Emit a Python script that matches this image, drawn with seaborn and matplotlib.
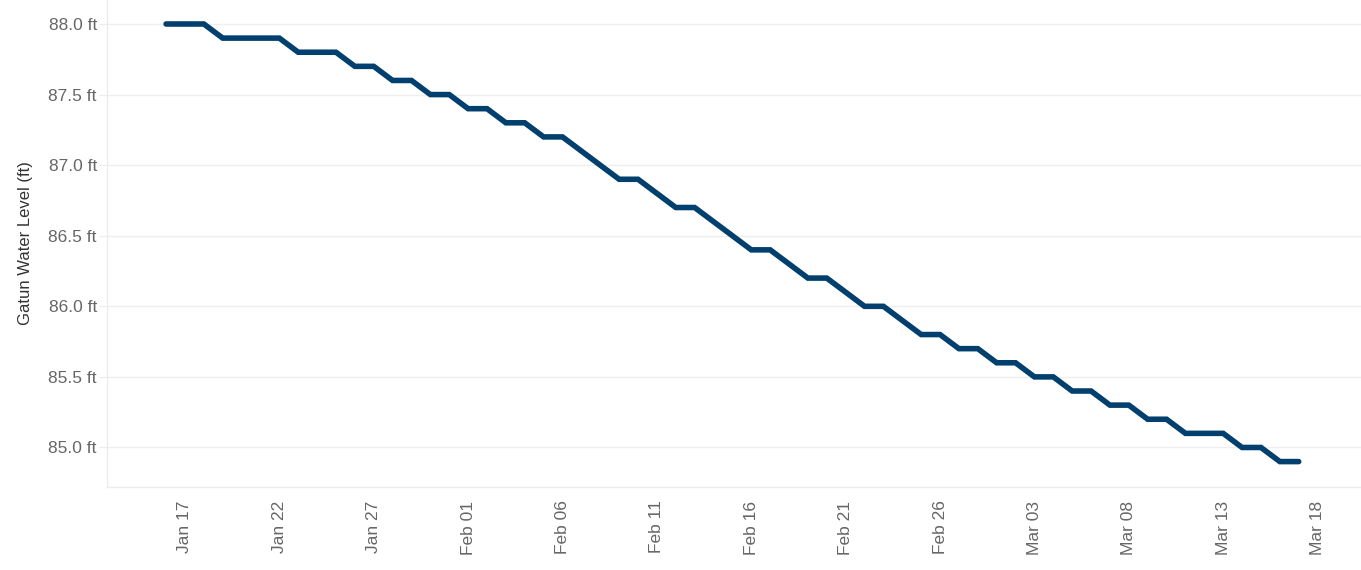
import matplotlib
matplotlib.use("Agg")
import matplotlib.pyplot as plt
import matplotlib.dates as mdates
import matplotlib.ticker as mticker
import seaborn as sns
import pandas as pd

start_date = "2023-01-16"
levels_ft = [
    88.0, 88.0, 88.0, 87.9, 87.9, 87.9, 87.9, 87.8, 87.8, 87.8, 87.7, 87.7,
    87.6, 87.6, 87.5, 87.5,
    87.4, 87.4, 87.3, 87.3, 87.2, 87.2, 87.1, 87.0, 86.9, 86.9, 86.8, 86.7,
    86.7, 86.6, 86.5, 86.4, 86.4, 86.3, 86.2, 86.2, 86.1, 86.0, 86.0, 85.9,
    85.8, 85.8, 85.7, 85.7,
    85.6, 85.6, 85.5, 85.5, 85.4, 85.4, 85.3, 85.3, 85.2, 85.2, 85.1, 85.1,
    85.1, 85.0, 85.0, 84.9, 84.9,
]
y_ticks = [85.0, 85.5, 86.0, 86.5, 87.0, 87.5, 88.0]
x_tick_start = "2023-01-17"
x_tick_end = "2023-03-18"

dates = pd.date_range(start_date, periods=len(levels_ft), freq="D")
df = pd.DataFrame({"date": dates, "level": levels_ft})

sns.set_theme(style="white")
plt.rcParams["font.family"] = ["Liberation Sans", "DejaVu Sans"]

fig = plt.figure(figsize=(13.61, 5.70), dpi=100)
ax = fig.add_axes([107 / 1361, 83 / 570, 1254 / 1361, 487 / 570])

sns.lineplot(data=df, x="date", y="level", ax=ax, color="#003f6e",
             linewidth=4.0, solid_capstyle="round", solid_joinstyle="miter")

ax.set_xlim(pd.Timestamp("2023-01-17") - pd.Timedelta(days=4.13),
            pd.Timestamp("2023-01-17") + pd.Timedelta(days=62.3))
ax.set_ylim(84.72, 88.17)

ax.set_yticks(y_ticks)
ax.yaxis.set_major_formatter(mticker.FuncFormatter(lambda v, p: f"{v:.1f} ft"))
ax.grid(axis="y", color="#efefef", linewidth=1)
ax.grid(axis="x", visible=False)

xt = pd.date_range(x_tick_start, x_tick_end, freq="5D")
ax.set_xticks(xt)
ax.xaxis.set_major_formatter(mdates.DateFormatter("%b %d"))
ax.xaxis.set_minor_locator(mdates.DayLocator())

ax.tick_params(axis="x", which="major", length=5.8, width=0.8, color="#d9d9d9",
               labelsize=12.5, labelcolor="#666666", labelrotation=90, pad=4)
ax.tick_params(axis="x", which="minor", length=3, width=0.8, color="#e3e3e3")
ax.tick_params(axis="y", which="major", length=5.8, width=0.8, color="#ececec",
               labelsize=12.5, labelcolor="#666666", pad=1.5, left=True)

for s in ["top", "right"]:
    ax.spines[s].set_visible(False)
for s in ["left", "bottom"]:
    ax.spines[s].set_color("#ececec")
    ax.spines[s].set_linewidth(1)

ax.set_xlabel("")
ax.set_ylabel("Gatun Water Level (ft)", fontsize=12, color="#333333")
ax.yaxis.set_label_coords(-0.059, 0.5)

fig.savefig("out.png", dpi=100)
